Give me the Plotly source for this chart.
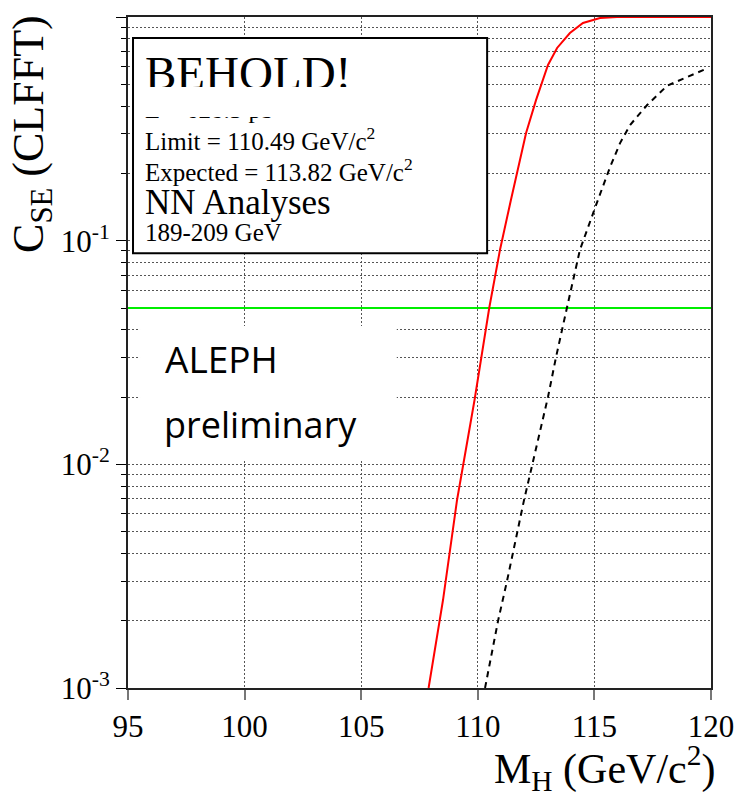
import plotly.graph_objects as go

# ---------------- data ----------------
obs_mass = [107.89, 108.51, 109.11, 109.86, 110.49, 110.95, 111.42, 112.07, 112.50,
            113.01, 113.40, 113.95, 114.51, 115.24, 115.97, 117.0, 118.0, 119.0, 120.0]
obs_cls = [0.001, 0.00248, 0.00693, 0.0194, 0.050, 0.0908, 0.152, 0.303, 0.426,
           0.61, 0.727, 0.848, 0.94, 0.99, 1.0, 1.0, 1.0, 1.0, 1.0]

exp_mass = [110.31, 110.87, 111.25, 111.51, 111.68, 111.98, 113.01, 113.35, 113.82,
            114.38, 115.15, 115.67, 116.10, 116.53, 117.26, 118.11, 118.97, 119.79]
exp_cls = [0.001, 0.002, 0.003, 0.004, 0.005, 0.0069, 0.020, 0.030, 0.050,
           0.091, 0.152, 0.213, 0.273, 0.329, 0.404, 0.492, 0.539, 0.586]

threshold_mass = [95, 120]
threshold_cls = [0.05, 0.05]

x_ticks = [95, 100, 105, 110, 115, 120]
y_ticks = [1, 0.1, 0.01, 0.001]
y_tick_text = ["1", "10<sup>-1</sup>", "10<sup>-2</sup>", "10<sup>-3</sup>"]
y_minor = [k * 10.0 ** (-n) for n in range(1, 4) for k in range(2, 10)]

box_lines = [
    ("Limit = 110.49 GeV/c<sup>2</sup>", 25, 0.7921),
    ("Expected = 113.82 GeV/c<sup>2</sup>", 25, 0.7459),
    ("NN Analyses", 35, 0.6908),
    ("189-209 GeV", 25, 0.655),
]

SERIF = "Liberation Serif"

fig = go.Figure()

fig.add_trace(go.Scatter(x=threshold_mass, y=threshold_cls, mode="lines",
                         line=dict(color="#00ee00", width=2), showlegend=False))
fig.add_trace(go.Scatter(x=exp_mass, y=exp_cls, mode="lines",
                         line=dict(color="black", width=2, dash="6px,5px"), showlegend=False))
fig.add_trace(go.Scatter(x=obs_mass, y=obs_cls, mode="lines",
                         line=dict(color="#ff0000", width=2), showlegend=False))

shapes = [
    # info box
    dict(type="rect", xref="x domain", yref="y domain", x0=0.0086, x1=0.616, y0=0.648, y1=0.9687,
         fillcolor="white", line=dict(color="black", width=2), layer="above"),
    # white patch behind ALEPH preliminary
    dict(type="rect", xref="x domain", yref="y domain", x0=0.0206, x1=0.461, y0=0.3398, y1=0.5395,
         fillcolor="white", line=dict(width=0), layer="above"),
]

annotations = [
    dict(text="BEHOLD!", xref="x domain", yref="y domain", x=0.0257, y=0.917,
         xanchor="left", yanchor="middle", showarrow=False,
         font=dict(family=SERIF, size=47, color="black")),
    dict(text="L = 628.3 pb", xref="x domain", yref="y domain", x=0.0257, y=0.862,
         xanchor="left", yanchor="middle", showarrow=False,
         font=dict(family=SERIF, size=25, color="black")),
    # white mask that clips the two lines above
    dict(text=" ", xref="x domain", yref="y domain", x=0.0154, y=0.8957,
         xanchor="left", yanchor="top", showarrow=False, width=345, height=30,
         bgcolor="white", borderwidth=0, borderpad=0,
         font=dict(family=SERIF, size=10, color="white")),
]
for txt, sz, yy in box_lines:
    annotations.append(dict(text=txt, xref="x domain", yref="y domain", x=0.0257, y=yy,
                            xanchor="left", yanchor="bottom", showarrow=False,
                            font=dict(family=SERIF, size=sz, color="black")))
annotations += [
    dict(text="ALEPH", xref="x domain", yref="y domain", x=0.060, y=0.4918,
         xanchor="left", yanchor="middle", showarrow=False,
         font=dict(family="Open Sans", size=37, color="black")),
    dict(text="preliminary", xref="x domain", yref="y domain", x=0.058, y=0.392,
         xanchor="left", yanchor="middle", showarrow=False,
         font=dict(family="Open Sans", size=36, color="black")),
    dict(text="C<sub>SE</sub> (CLFFT)", xref="paper", yref="paper", x=-0.1647, y=1.006,
         xanchor="center", yanchor="top", textangle=-90, showarrow=False,
         font=dict(family=SERIF, size=44, color="black")),
    dict(text="M<sub>H</sub> (GeV/c<sup>2</sup>)", xref="paper", yref="paper", x=1.0103, y=-0.1192,
         xanchor="right", yanchor="middle", showarrow=False,
         font=dict(family=SERIF, size=42, color="black")),
]

fig.update_layout(
    width=737, height=798,
    margin=dict(l=128, r=26, t=17, b=110, autoexpand=False),
    paper_bgcolor="white", plot_bgcolor="white",
    shapes=shapes, annotations=annotations,
    xaxis=dict(range=[95, 120], tickmode="array", tickvals=x_ticks, automargin=False,
               ticks="outside", ticklen=10, tickcolor="#777", tickwidth=2,
               showgrid=True, gridcolor="#555", griddash="2px,2px", gridwidth=1,
               showline=True, linecolor="#222", linewidth=2, mirror=True,
               zeroline=False, tickfont=dict(family=SERIF, size=31, color="black")),
    yaxis=dict(type="log", range=[-3, 0], tickmode="array", tickvals=y_ticks, ticktext=y_tick_text,
               automargin=False,
               ticks="outside", ticklen=10, tickcolor="black", tickwidth=1,
               showgrid=True, gridcolor="#555", griddash="2px,2px", gridwidth=1,
               minor=dict(tickmode="array", tickvals=y_minor, ticks="outside", ticklen=5,
                          tickcolor="black", showgrid=True, gridcolor="#555",
                          griddash="2px,2px", gridwidth=1),
               showline=True, linecolor="#222", linewidth=2, mirror=True,
               zeroline=False, tickfont=dict(family=SERIF, size=31, color="black")),
)

fig.write_html("out.html")
